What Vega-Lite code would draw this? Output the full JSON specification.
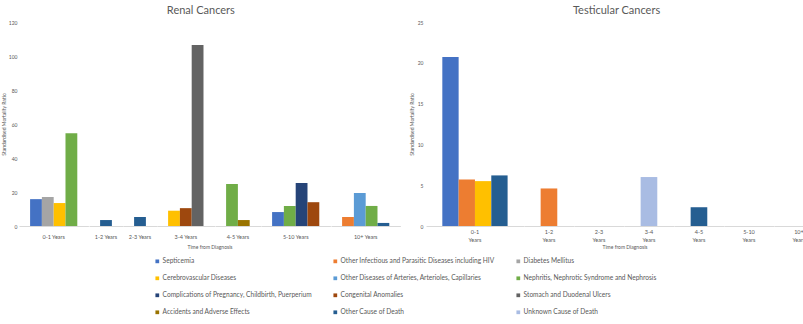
{
  "$schema": "https://vega.github.io/schema/vega-lite/v6.json",
  "padding": {"left": 1, "top": 5, "right": 0, "bottom": 0},
  "background": "white",
  "datasets": {
    "renal": [
      {"period": "0-1 Years", "cause": "Septicemia", "smr": 15.8},
      {"period": "0-1 Years", "cause": "Diabetes Mellitus", "smr": 17},
      {"period": "0-1 Years", "cause": "Cerebrovascular Diseases", "smr": 13.5},
      {"period": "0-1 Years", "cause": "Nephritis, Nephrotic Syndrome and Nephrosis", "smr": 54.5},
      {"period": "1-2 Years", "cause": "Other Cause of Death", "smr": 3.5},
      {"period": "2-3 Years", "cause": "Other Cause of Death", "smr": 5.3},
      {"period": "3-4 Years", "cause": "Cerebrovascular Diseases", "smr": 9},
      {"period": "3-4 Years", "cause": "Congenital Anomalies", "smr": 10.5},
      {"period": "3-4 Years", "cause": "Stomach and Duodenal Ulcers", "smr": 106.5},
      {"period": "4-5 Years", "cause": "Nephritis, Nephrotic Syndrome and Nephrosis", "smr": 24.7},
      {"period": "4-5 Years", "cause": "Accidents and Adverse Effects", "smr": 3.5},
      {"period": "5-10 Years", "cause": "Septicemia", "smr": 8.2},
      {"period": "5-10 Years", "cause": "Nephritis, Nephrotic Syndrome and Nephrosis", "smr": 11.8},
      {"period": "5-10 Years", "cause": "Complications of Pregnancy, Childbirth, Puerperium", "smr": 25.3},
      {"period": "5-10 Years", "cause": "Congenital Anomalies", "smr": 14},
      {"period": "10+ Years", "cause": "Other Infectious and Parasitic Diseases including HIV", "smr": 5.3},
      {"period": "10+ Years", "cause": "Other Diseases of Arteries, Arterioles, Capillaries", "smr": 19.4},
      {"period": "10+ Years", "cause": "Nephritis, Nephrotic Syndrome and Nephrosis", "smr": 11.8},
      {"period": "10+ Years", "cause": "Other Cause of Death", "smr": 1.8}
    ],
    "testicular": [
      {"period": "0-1 Years", "cause": "Septicemia", "smr": 20.7},
      {"period": "0-1 Years", "cause": "Other Infectious and Parasitic Diseases including HIV", "smr": 5.7},
      {"period": "0-1 Years", "cause": "Cerebrovascular Diseases", "smr": 5.5},
      {"period": "0-1 Years", "cause": "Other Cause of Death", "smr": 6.2},
      {"period": "1-2 Years", "cause": "Other Infectious and Parasitic Diseases including HIV", "smr": 4.6},
      {"period": "2-3 Years", "cause": "Septicemia", "smr": 0},
      {"period": "3-4 Years", "cause": "Unknown Cause of Death", "smr": 6.0},
      {"period": "4-5 Years", "cause": "Other Cause of Death", "smr": 2.3},
      {"period": "5-10 Years", "cause": "Septicemia", "smr": 0},
      {"period": "10+ Years", "cause": "Septicemia", "smr": 0}
    ]
  },
  "hconcat": [
    {
      "data": {"name": "renal"},
      "title": {"text": "Renal Cancers", "anchor": "middle", "frame": "bounds", "fontSize": 11, "color": "#595959", "fontWeight": "normal", "font": "Lato", "offset": 4},
      "facet": {
        "column": {
          "field": "period", "type": "ordinal",
          "sort": ["0-1 Years", "1-2 Years", "2-3 Years", "3-4 Years", "4-5 Years", "5-10 Years", "10+ Years"],
          "title": "Time from Diagnosis",
          "header": {"labelOrient": "bottom", "titleOrient": "bottom", "labelFontSize": 5.5, "labelColor": "#595959", "labelPadding": 9, "labelFont": "Lato", "titleFontSize": 5, "titleColor": "#595959", "titleFontWeight": "normal", "titleFont": "Lato", "titlePadding": -6}
        }
      },
      "spacing": 0,
      "spec": {
        "width": {"step": 11.8},
        "height": 204,
        "mark": {"type": "bar"},
        "encoding": {
          "x": {
            "field": "cause", "type": "nominal",
            "sort": ["Septicemia", "Other Infectious and Parasitic Diseases including HIV", "Diabetes Mellitus", "Cerebrovascular Diseases", "Other Diseases of Arteries, Arterioles, Capillaries", "Nephritis, Nephrotic Syndrome and Nephrosis", "Complications of Pregnancy, Childbirth, Puerperium", "Congenital Anomalies", "Stomach and Duodenal Ulcers", "Accidents and Adverse Effects", "Other Cause of Death", "Unknown Cause of Death"],
            "scale": {"paddingInner": 0, "paddingOuter": 0.94},
            "axis": {"labels": false, "ticks": false, "title": null, "domain": true, "domainColor": "#d9d9d9", "domainWidth": 1}
          },
          "y": {
            "field": "smr", "type": "quantitative",
            "scale": {"domain": [0, 120]},
            "axis": {"values": [0, 20, 40, 60, 80, 100, 120], "title": "Standardised Mortality Ratio", "labelPadding": 2, "titlePadding": 2}
          },
          "color": {
            "field": "cause", "type": "nominal",
            "scale": {
              "domain": ["Septicemia", "Other Infectious and Parasitic Diseases including HIV", "Diabetes Mellitus", "Cerebrovascular Diseases", "Other Diseases of Arteries, Arterioles, Capillaries", "Nephritis, Nephrotic Syndrome and Nephrosis", "Complications of Pregnancy, Childbirth, Puerperium", "Congenital Anomalies", "Stomach and Duodenal Ulcers", "Accidents and Adverse Effects", "Other Cause of Death", "Unknown Cause of Death"],
              "range": ["#4472C4", "#ED7D31", "#A5A5A5", "#FFC000", "#5B9BD5", "#70AD47", "#264478", "#9E480E", "#636363", "#997300", "#255E91", "#A9BCE3"]
            },
            "legend": {
              "orient": "none", "legendX": 135, "legendY": 236,
              "direction": "horizontal", "columns": 3, "title": null,
              "symbolType": "square", "symbolSize": 14, "symbolStrokeWidth": 0,
              "labelFontSize": 6.6, "labelColor": "#595959", "labelFont": "Lato", "labelLimit": 300,
              "rowPadding": 10, "columnPadding": 20, "labelOffset": 2
            }
          }
        }
      },
      "resolve": {"scale": {"x": "independent"}, "axis": {"x": "independent"}}
    },
    {
      "data": {"name": "testicular"},
      "title": {"text": "Testicular Cancers", "anchor": "middle", "frame": "bounds", "fontSize": 11, "color": "#595959", "fontWeight": "normal", "font": "Lato", "offset": 4},
      "facet": {
        "column": {
          "field": "period", "type": "ordinal",
          "sort": ["0-1 Years", "1-2 Years", "2-3 Years", "3-4 Years", "4-5 Years", "5-10 Years", "10+ Years"],
          "title": "Time from Diagnosis",
          "header": {"labelOrient": "bottom", "titleOrient": "bottom", "labelExpr": "split(datum.label, ' ')", "labelLineHeight": 8, "labelFontSize": 5.5, "labelColor": "#595959", "labelPadding": 4, "labelFont": "Lato", "titleFontSize": 5, "titleColor": "#595959", "titleFontWeight": "normal", "titleFont": "Lato", "titlePadding": -9}
        }
      },
      "spacing": 0,
      "spec": {
        "width": {"step": 16},
        "height": 204,
        "mark": {"type": "bar"},
        "encoding": {
          "x": {
            "field": "cause", "type": "nominal",
            "sort": ["Septicemia", "Other Infectious and Parasitic Diseases including HIV", "Diabetes Mellitus", "Cerebrovascular Diseases", "Other Diseases of Arteries, Arterioles, Capillaries", "Nephritis, Nephrotic Syndrome and Nephrosis", "Complications of Pregnancy, Childbirth, Puerperium", "Congenital Anomalies", "Stomach and Duodenal Ulcers", "Accidents and Adverse Effects", "Other Cause of Death", "Unknown Cause of Death"],
            "scale": {"paddingInner": 0, "paddingOuter": 1.06},
            "axis": {"labels": false, "ticks": false, "title": null, "domain": true, "domainColor": "#d9d9d9", "domainWidth": 1}
          },
          "y": {
            "field": "smr", "type": "quantitative",
            "scale": {"domain": [0, 25]},
            "axis": {"values": [0, 5, 10, 15, 20, 25], "title": "Standardised Mortality Ratio", "labelPadding": 3, "titlePadding": 3}
          },
          "color": {"field": "cause", "type": "nominal"}
        }
      },
      "resolve": {"scale": {"x": "independent"}, "axis": {"x": "independent"}}
    }
  ],
  "spacing": 8,
  "resolve": {"scale": {"color": "shared"}},
  "config": {
    "font": "Lato",
    "view": {"stroke": null},
    "axis": {"labelFontSize": 5, "labelColor": "#595959", "titleFontSize": 5, "titleColor": "#595959", "titleFontWeight": "normal", "ticks": false, "domain": false, "grid": false, "labelFont": "Lato", "titleFont": "Lato"},
    "axisX": {"domain": true}
  }
}
